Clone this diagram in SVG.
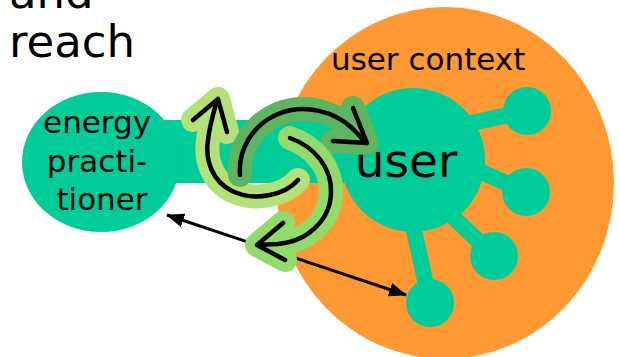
<svg xmlns="http://www.w3.org/2000/svg" width="619" height="357" viewBox="0 0 619 357">
  <style>
    .txt { font-family: "DejaVu Sans", "Liberation Sans", sans-serif; fill: #000000; }
    .teal { fill: #00CC99; }
    .spoke { stroke: #00CC99; stroke-width: 16; fill: none; }
    .ring { fill: none; stroke-linecap: round; stroke-linejoin: round; stroke-width: 24; }
    .ink { fill: none; stroke: #000000; stroke-width: 4.5; stroke-linecap: round; stroke-linejoin: round; }
    .link { fill: none; stroke: #000000; stroke-width: 3; }
  </style>
  <defs>
    <marker id="head" markerUnits="userSpaceOnUse" markerWidth="18" markerHeight="14" refX="17" refY="7" orient="auto-start-reverse">
      <path d="M0,0 L18,7 L0,14 z" fill="#000000"/>
    </marker>
  </defs>

  <rect width="619" height="357" fill="#FFFFFF"/>

  <g id="title">
    <text class="txt" x="9" y="8" font-size="45">and</text>
    <text class="txt" x="9" y="57" font-size="45">reach</text>
  </g>

  <g id="user-context">
    <ellipse cx="445" cy="183" rx="169" ry="176" fill="#FF9933"/>
    <text class="txt" x="331" y="70" font-size="31">user context</text>
  </g>

  <g id="link-bar">
    <rect class="teal" x="150" y="120" width="240" height="63"/>
  </g>

  <g id="energy-practitioner">
    <ellipse class="teal" cx="101" cy="162" rx="79" ry="70"/>
    <text class="txt" font-size="31" text-anchor="middle">
      <tspan x="102" y="133">energy</tspan>
      <tspan x="102" y="172">practi-</tspan>
      <tspan x="102" y="210">tioner</tspan>
    </text>
  </g>

  <g id="user">
    <line class="spoke" x1="440" y1="130" x2="526" y2="111"/>
    <line class="spoke" x1="450" y1="158" x2="526" y2="192"/>
    <line class="spoke" x1="430" y1="195" x2="494" y2="256"/>
    <line class="spoke" x1="405" y1="190" x2="430" y2="303"/>
    <circle class="teal" cx="413" cy="160" r="72"/>
    <text class="txt" x="406" y="177" font-size="47" text-anchor="middle">user</text>
  </g>

  <g id="contacts">
    <circle id="contact-1" class="teal" cx="527" cy="111" r="24"/>
    <circle id="contact-2" class="teal" cx="526" cy="192" r="24"/>
    <circle id="contact-3" class="teal" cx="494" cy="256" r="24"/>
    <circle id="contact-4" class="teal" cx="430" cy="303" r="24"/>
  </g>

  <g id="connectors">
    <line class="link" x1="167" y1="215" x2="406" y2="295" marker-start="url(#head)" marker-end="url(#head)"/>
  </g>

  <g id="cycle">
    <g id="cycle-a">
      <path class="ring" stroke="#B4E07A" d="M298,180 C285,195 255,202 232,191 C212,181 205,160 208,140 C209,130 212,118 216,104 M193,120 L218,99 L227,132"/>
      <path class="ink" d="M298,180 C285,195 255,202 232,191 C212,181 205,160 208,140 C209,130 212,118 216,104"/>
      <path class="ink" d="M193,120 L218,99 L227,132"/>
    </g>
    <g id="cycle-b">
      <path class="ring" stroke="#5DB55F" d="M240,175 C238,150 252,125 278,114 C305,103 335,112 352,128 C358,134 363,140 366,143 M353,108 L367,143 L333,141"/>
      <path class="ink" d="M240,175 C238,150 252,125 278,114 C305,103 335,112 352,128 C358,134 363,140 366,143"/>
      <path class="ink" d="M353,108 L367,143 L333,141"/>
    </g>
    <g id="cycle-c">
      <path class="ring" stroke="#92DB6B" d="M290,138 C315,147 332,168 331,193 C330,222 305,242 278,244 L258,245 M283,223 L257,245 L285,260"/>
      <path class="ink" d="M290,138 C315,147 332,168 331,193 C330,222 305,242 278,244 L258,245"/>
      <path class="ink" d="M283,223 L257,245 L285,260"/>
    </g>
  </g>
</svg>
